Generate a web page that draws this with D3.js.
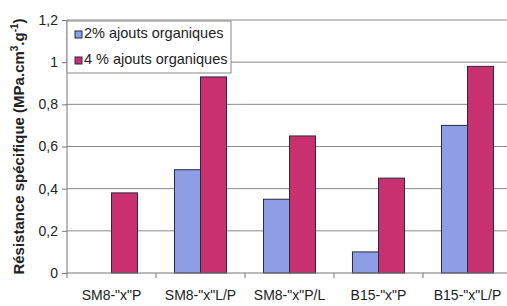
<!doctype html>
<html>
<head>
<meta charset="utf-8">
<style>
  body { margin:0; background:#fff; }
  svg { display:block; font-family: "Liberation Sans", Arial, sans-serif; }
  .grid line { stroke:#8a8a8a; stroke-width:1px; }
  .axis path, .axis line { stroke:#777; stroke-width:1px; }
  .axis text { font-size:14px; fill:#222; }
  .bar { stroke:#2a2a3a; stroke-width:1px; }
</style>
<script src="https://cdn.jsdelivr.net/npm/d3@7"></script>
</head>
<body>
<svg id="chart" width="507" height="306"></svg>
<script>
// donnees
var categories = ['SM8-"x"P', 'SM8-"x"L/P', 'SM8-"x"P/L', 'B15-"x"P', 'B15-"x"L/P'];
var series = ["2% ajouts organiques", "4 % ajouts organiques"];
var val2 = [0, 0.49, 0.35, 0.10, 0.70];
var val4 = [0.38, 0.93, 0.65, 0.45, 0.98];
var yTicks = [0, 0.2, 0.4, 0.6, 0.8, 1, 1.2];
var yTickLabels = ["0", "0,2", "0,4", "0,6", "0,8", "1", "1,2"];
var colors = ["#8d9de6", "#c8306f"];

var svg = d3.select("#chart");
var pLeft = 67, pRight = 512, pTop = 20, pBottom = 273;

var x0 = d3.scaleBand().domain(categories).range([pLeft, pRight]).padding(0);
var x1 = d3.scaleBand().domain(series).range([0, x0.bandwidth()]).paddingOuter(0.71);
var y = d3.scaleLinear().domain([0, 1.2]).range([pBottom, pTop]);

// grille
svg.append("g").attr("class", "grid")
  .selectAll("line").data(yTicks.slice(1)).enter()
  .append("line")
  .attr("x1", pLeft).attr("x2", pRight)
  .attr("y1", function(d){ return y(d); })
  .attr("y2", function(d){ return y(d); });

// barres
var rows = categories.map(function(c, i){ return [val2[i], val4[i]]; });
var groups = svg.append("g").selectAll("g").data(rows).enter()
  .append("g")
  .attr("transform", function(d, i){ return "translate(" + x0(categories[i]) + ",0)"; });

groups.selectAll("rect")
  .data(function(d){ return d.map(function(v, j){ return {v:v, s:series[j], j:j}; }).filter(function(e){ return e.v > 0; }); })
  .enter().append("rect")
  .attr("class", "bar")
  .attr("x", function(d){ return x1(d.s); })
  .attr("width", x1.bandwidth())
  .attr("y", function(d){ return y(d.v); })
  .attr("height", function(d){ return y(0) - y(d.v); })
  .attr("fill", function(d){ return colors[d.j]; });

// axes
var yAxis = d3.axisLeft(y).tickValues(yTicks)
  .tickFormat(function(d, i){ return yTickLabels[i]; })
  .tickSize(5).tickPadding(4);
svg.append("g").attr("class", "axis")
  .attr("transform", "translate(" + pLeft + ",0)")
  .call(yAxis)
  .call(function(g){ g.select(".domain").attr("d", "M0," + pTop + "V" + pBottom); });

var xAxis = svg.append("g").attr("class", "axis")
  .attr("transform", "translate(0," + pBottom + ")");
xAxis.append("line").attr("x1", pLeft).attr("x2", pRight).attr("y1", 0).attr("y2", 0);
xAxis.selectAll(".tk").data(categories.concat([null])).enter()
  .append("line")
  .attr("x1", function(d, i){ return pLeft + i * x0.step(); })
  .attr("x2", function(d, i){ return pLeft + i * x0.step(); })
  .attr("y1", 0).attr("y2", 5);
xAxis.selectAll("text").data(categories).enter()
  .append("text")
  .attr("x", function(d){ return x0(d) + x0.bandwidth() / 2; })
  .attr("y", 27)
  .attr("text-anchor", "middle")
  .text(function(d){ return d; });

// titre axe y
var yt = svg.append("text")
  .attr("transform", "translate(24," + (pTop + pBottom) / 2 + ") rotate(-90)")
  .attr("text-anchor", "middle")
  .attr("font-size", "15px")
  .attr("font-weight", "bold")
  .attr("fill", "#222");
yt.append("tspan").text("Résistance spécifique (MPa.cm");
yt.append("tspan").attr("font-size", "10px").attr("dy", -6).text("3");
yt.append("tspan").attr("dy", 6).text(".g");
yt.append("tspan").attr("font-size", "10px").attr("dy", -6).text("-1");
yt.append("tspan").attr("dy", 6).text(")");

// legende
var lg = svg.append("g").attr("transform", "translate(67,21)");
lg.append("rect").attr("width", 164).attr("height", 52)
  .attr("fill", "#fff").attr("stroke", "#888");
series.forEach(function(s, i){
  lg.append("rect").attr("x", 8).attr("y", 10 + i * 26).attr("width", 7).attr("height", 7)
    .attr("fill", colors[i]).attr("stroke", "#2a2a3a");
  lg.append("text").attr("x", 17).attr("y", 17 + i * 26)
    .attr("font-size", "14.5px").attr("fill", "#222").text(s);
});
</script>
</body>
</html>
